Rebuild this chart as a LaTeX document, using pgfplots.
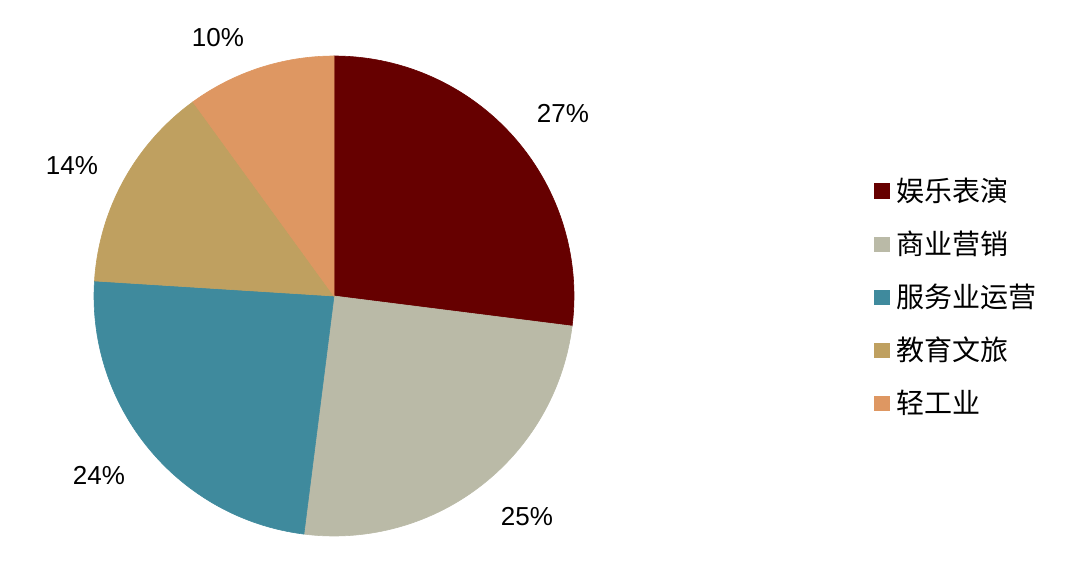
\documentclass[border=0pt]{standalone}
\usepackage{fontspec}
\setmainfont{Liberation Sans}
\newfontfamily\cjk{Noto Sans CJK SC}
\usepackage{pgfplots}
\usepackage{pgfplotstable}
\pgfplotsset{compat=1.18}

\definecolor{c1}{HTML}{660000}
\definecolor{c2}{HTML}{BABAA7}
\definecolor{c3}{HTML}{3F8A9D}
\definecolor{c4}{HTML}{BFA060}
\definecolor{c5}{HTML}{DE9762}

% share (%), colour, label position (px, y up)
\pgfplotstableread{
pct col lx  ly
27  c1  563 473
25  c2  527 69
24  c3  99  111
14  c4  72  420
10  c5  218 548
}\piedata

\begin{document}
\begin{tikzpicture}
\begin{axis}[
    scale only axis,
    width=540pt, height=293pt,
    xmin=0, xmax=1080, ymin=0, ymax=586,
    hide axis, clip=false,
    legend style={at={(axis cs:874,406)}, anchor=north west,
        draw=none, fill=none, inner sep=0pt, row sep=13.55pt,
        font=\cjk\fontsize{14pt}{14pt}\selectfont,
        nodes={inner sep=0pt, text height=10.5pt, text depth=2.5pt}},
    legend cell align=left,
    legend image code/.code={\fill[#1] (0pt,-2.6pt) rectangle (7.6pt,5pt);
        \path (11.2pt,0pt);},
]
\path (axis cs:0,0) rectangle (axis cs:1080,586);
\gdef\cum{90}
\pgfplotsinvokeforeach{0,...,4}{
  \pgfplotstablegetelem{#1}{pct}\of\piedata \let\p\pgfplotsretval
  \pgfplotstablegetelem{#1}{col}\of\piedata \let\c\pgfplotsretval
  \pgfplotstablegetelem{#1}{lx}\of\piedata \let\lx\pgfplotsretval
  \pgfplotstablegetelem{#1}{ly}\of\piedata \let\ly\pgfplotsretval
  \pgfmathsetmacro\a{\cum}
  \pgfmathsetmacro\b{\cum-3.6*\p}
  \edef\temp{\noexpand\filldraw[\c, line width=0.3pt] (axis cs:334,290) -- ++(\a:120pt)
    arc[start angle=\a, end angle=\b, radius=120pt] -- cycle;
    \noexpand\node[font=\noexpand\fontsize{13pt}{13pt}\noexpand\selectfont]
    at (axis cs:\lx,\ly) {\p\noexpand\%};}
  \temp
  \xdef\cum{\b}
}
\addlegendimage{fill=c1, draw=none}
\addlegendentry{娱乐表演}
\addlegendimage{fill=c2, draw=none}
\addlegendentry{商业营销}
\addlegendimage{fill=c3, draw=none}
\addlegendentry{服务业运营}
\addlegendimage{fill=c4, draw=none}
\addlegendentry{教育文旅}
\addlegendimage{fill=c5, draw=none}
\addlegendentry{轻工业}
\end{axis}
\end{tikzpicture}
\end{document}
